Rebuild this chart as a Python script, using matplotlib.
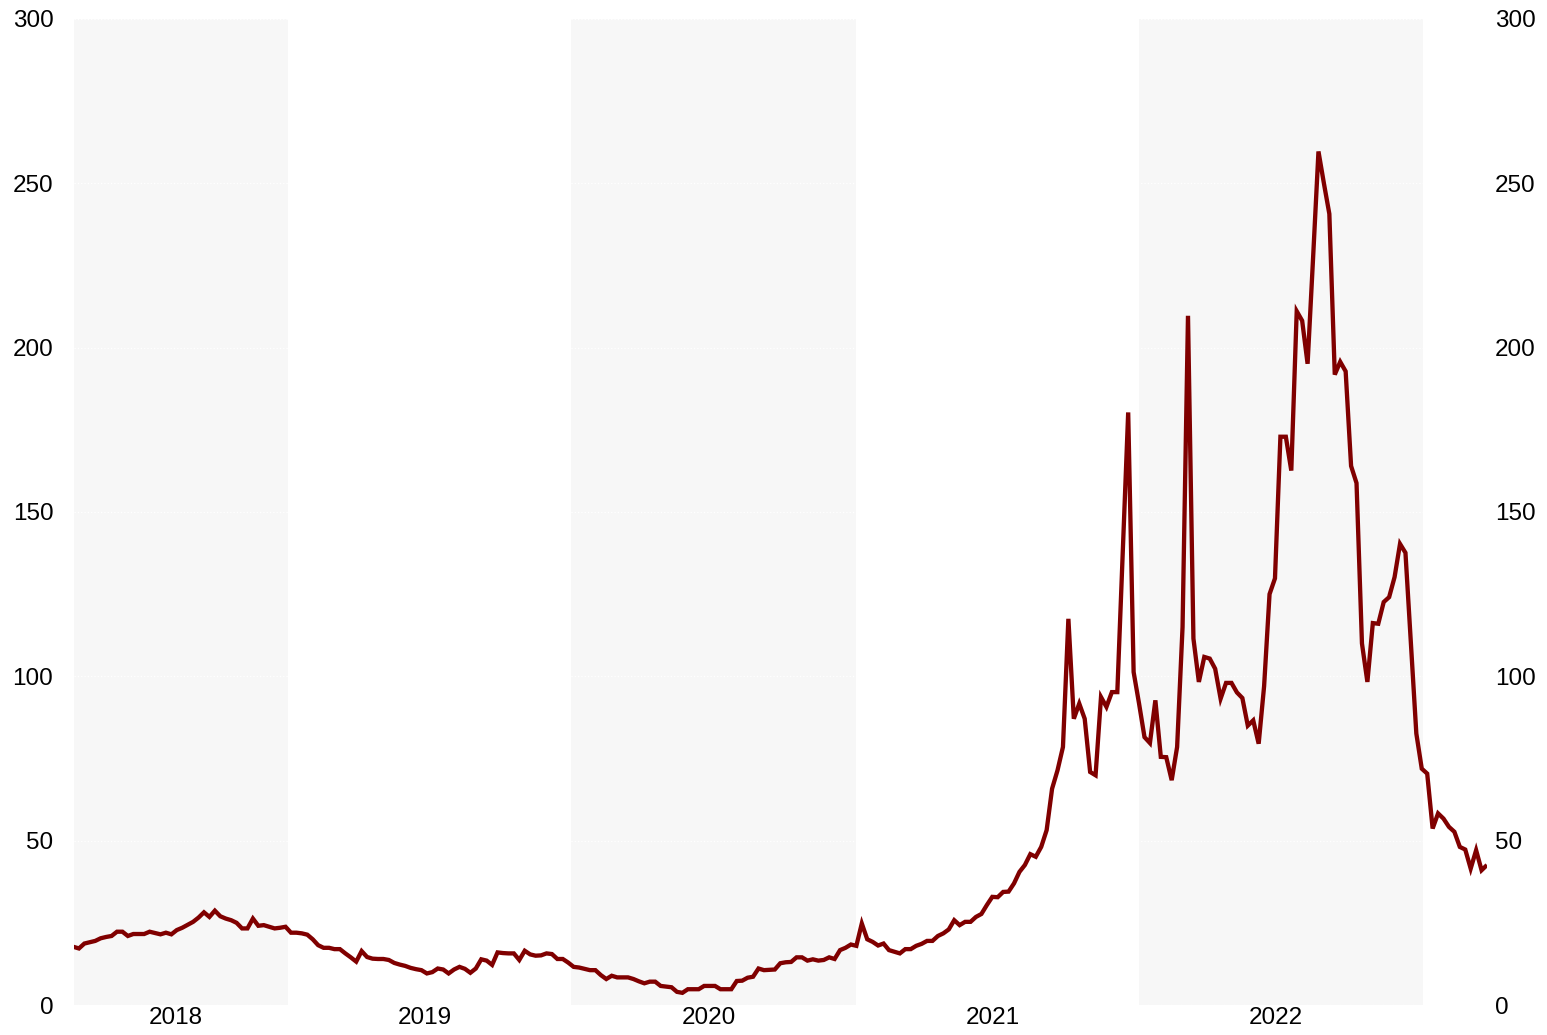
"""Weekly price series, 2018-2023, with alternating year bands."""

import matplotlib

matplotlib.use("Agg")
import matplotlib.pyplot as plt
import pandas as pd

START_DATE = "2018-03-31"

# weekly values
VALUES = [
    17.7, 17.2, 18.7, 19.1, 19.5, 20.3, 20.7, 21.0, 22.3, 22.3,
    21.0, 21.6, 21.6, 21.6, 22.3, 21.9, 21.5, 22.0, 21.5, 22.8,
    23.5, 24.4, 25.3, 26.6, 28.2, 26.8, 28.7, 27.0, 26.3, 25.8,
    25.0, 23.3, 23.3, 26.3, 24.1, 24.3, 23.8, 23.3, 23.5, 23.8,
    22.0, 22.0, 21.8, 21.4, 20.0, 18.2, 17.4, 17.4, 17.0, 17.0,
    15.7, 14.5, 13.2, 16.4, 14.6, 14.1, 14.0, 14.0, 13.7, 12.8,
    12.3, 11.9, 11.3, 10.9, 10.6, 9.6, 10.0, 11.1, 10.8, 9.6,
    10.8, 11.6, 11.0, 9.8, 11.1, 13.9, 13.5, 12.2, 16.0, 15.8,
    15.7, 15.7, 13.7, 16.5, 15.4, 15.0, 15.1, 15.7, 15.5, 14.0,
    14.0, 12.9, 11.6, 11.4, 11.0, 10.6, 10.6, 9.1, 7.9, 8.9,
    8.4, 8.4, 8.4, 7.9, 7.2, 6.6, 7.1, 7.1, 5.8, 5.6,
    5.4, 4.0, 3.7, 4.8, 4.8, 4.8, 5.8, 5.8, 5.8, 4.8,
    4.8, 4.8, 7.3, 7.4, 8.3, 8.6, 11.1, 10.6, 10.7, 10.8,
    12.7, 13.0, 13.1, 14.5, 14.5, 13.5, 13.9, 13.5, 13.7, 14.5,
    14.0, 16.7, 17.4, 18.4, 18.0, 24.8, 20.0, 19.2, 18.1, 18.7,
    16.7, 16.2, 15.7, 17.0, 17.0, 18.0, 18.6, 19.5, 19.5, 21.0,
    21.8, 23.0, 25.8, 24.3, 25.3, 25.3, 26.8, 27.7, 30.4, 32.9,
    32.8, 34.4, 34.5, 37.0, 40.5, 42.6, 45.9, 45.1, 48.1, 53.2,
    65.8, 71.4, 78.5, 117.5, 87.1, 91.7, 87.1, 70.9, 69.9, 93.7,
    90.7, 95.2, 95.2, 137.7, 180.3, 101.3, 91.7, 81.5, 79.7, 92.7,
    75.5, 75.4, 68.4, 78.5, 115.0, 209.7, 111.5, 98.3, 105.9, 105.4,
    102.3, 93.2, 98.0, 98.0, 95.1, 93.4, 85.0, 86.6, 79.5, 97.0,
    125.0, 129.8, 172.9, 172.9, 162.6, 211.1, 208.2, 195.1, 227.0, 259.7,
    250.0, 240.7, 191.8, 195.7, 192.8, 164.0, 158.8, 110.0, 98.3, 116.2,
    116.0, 122.6, 124.1, 130.2, 140.3, 137.6, 110.0, 82.6, 71.9, 70.4,
    53.7, 58.3, 56.7, 54.2, 52.7, 48.1, 47.3, 41.5, 47.1, 41.0,
    42.6,
]

SHADED_YEARS = [2018, 2020, 2022]
LABEL_YEARS = [2018, 2019, 2020, 2021, 2022]
Y_TICKS = [0, 50, 100, 150, 200, 250, 300]

LINE_COLOR = "#800000"
BAND_COLOR = "#f7f7f7"
FONT_SIZE = 17.5


def main() -> None:
    plt.rcParams["font.family"] = ["Liberation Sans", "DejaVu Sans"]
    dates = pd.date_range(START_DATE, periods=len(VALUES), freq="7D")
    first, last = dates[0], dates[-1]

    fig = plt.figure(figsize=(15.47, 10.35), dpi=100)
    ax = fig.add_axes([73.5 / 1547, 1 - 1005 / 1035, (1487 - 73.5) / 1547, (1005 - 19) / 1035])

    for year in SHADED_YEARS:
        ax.axvspan(pd.Timestamp(f"{year}-01-01"), pd.Timestamp(f"{year + 1}-01-01"),
                   color=BAND_COLOR, lw=0, zorder=0)

    ax.plot(dates, VALUES, color=LINE_COLOR, lw=3.1, solid_joinstyle="miter",
            solid_capstyle="butt", zorder=3)

    ax.set_xlim(first, last)
    ax.set_ylim(0, 300)
    ax.set_yticks(Y_TICKS)
    ax.grid(axis="y", color="white", linestyle=":", linewidth=0.9, zorder=1)
    ax.set_axisbelow(True)

    # labels sit near the middle of each year's visible span
    ticks = []
    for year in LABEL_YEARS:
        lo = max(pd.Timestamp(f"{year}-01-01"), first)
        hi = min(pd.Timestamp(f"{year + 1}-01-01"), last)
        ticks.append(lo + (hi - lo) / 2 - pd.Timedelta(days=6))
    ax.set_xticks(ticks)
    ax.set_xticklabels([str(y) for y in LABEL_YEARS])

    ax.tick_params(axis="x", length=0, pad=1.5, labelsize=FONT_SIZE)
    ax.tick_params(axis="y", length=0, pad=14.5, labelsize=FONT_SIZE)
    for spine in ax.spines.values():
        spine.set_visible(False)

    ax2 = ax.twinx()
    ax2.set_ylim(0, 300)
    ax2.set_yticks(Y_TICKS)
    ax2.tick_params(axis="y", length=0, pad=5.8, labelsize=FONT_SIZE)
    for spine in ax2.spines.values():
        spine.set_visible(False)

    fig.savefig("out.png", dpi=100)
    plt.close(fig)


if __name__ == "__main__":
    main()
